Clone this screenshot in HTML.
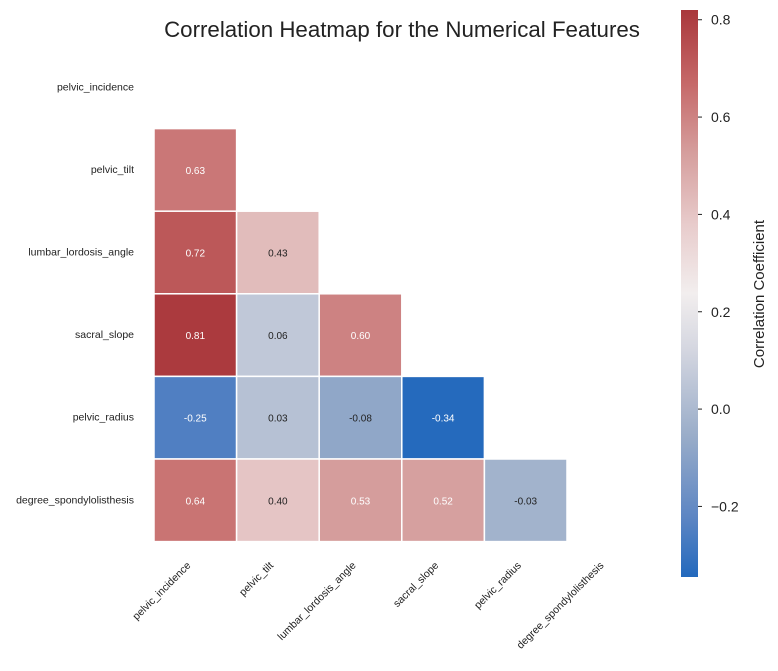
<!DOCTYPE html>
<html><head><meta charset="utf-8">
<style>
body{margin:0;background:#fff;font-family:"Liberation Sans",sans-serif;}
svg text{font-family:"Liberation Sans",sans-serif;}
</style></head>
<body>
<svg id="chart" width="778" height="666" xmlns="http://www.w3.org/2000/svg">
<defs>
<linearGradient id="cbgrad" x1="0" y1="1" x2="0" y2="0">
<stop offset="0" stop-color="#2369bd"/>
<stop offset="0.1" stop-color="#5a84c3"/>
<stop offset="0.25" stop-color="#9aadc9"/>
<stop offset="0.4" stop-color="#d4d6e0"/>
<stop offset="0.5" stop-color="#f2eeee"/>
<stop offset="0.62" stop-color="#e8cccc"/>
<stop offset="0.75" stop-color="#d59d9c"/>
<stop offset="0.87" stop-color="#c66969"/>
<stop offset="1" stop-color="#a9373b"/>
</linearGradient>
</defs>
<text x="402" y="37" font-size="22.3" text-anchor="middle" fill="#222">Correlation Heatmap for the Numerical Features</text>
<g id="cells"></g>
<g id="ylabels"></g>
<g id="xlabels"></g>
<rect x="681" y="10" width="17" height="567" fill="url(#cbgrad)"/>
<g id="cbticks"></g>
<text transform="translate(764,294) rotate(-90)" font-size="15" text-anchor="middle" fill="#222">Correlation Coefficient</text>
</svg>
<script>
const features = ["pelvic_incidence","pelvic_tilt","lumbar_lordosis_angle","sacral_slope","pelvic_radius","degree_spondylolisthesis"];
const corrRow1 = [0.63];
const corrRow2 = [0.72,0.43];
const corrRow3 = [0.81,0.06,0.60];
const corrRow4 = [-0.25,0.03,-0.08,-0.34];
const corrRow5 = [0.64,0.40,0.53,0.52,-0.03];
const cbTicks = [-0.2,0.0,0.2,0.4,0.6,0.8];
const rows = [[],corrRow1,corrRow2,corrRow3,corrRow4,corrRow5];
const vmin=-0.345, vmax=0.82;
const x0=154, y0=46, cs=82.6;
const stops=[[0,[35,105,189]],[0.1,[90,132,195]],[0.25,[154,173,201]],[0.4,[212,214,224]],[0.5,[242,238,238]],[0.62,[232,204,204]],[0.75,[213,157,156]],[0.87,[198,105,105]],[1,[169,55,59]]];
function color(v){let t=Math.max(0,Math.min(1,(v-vmin)/(vmax-vmin)));for(let i=1;i<stops.length;i++){if(t<=stops[i][0]){const a=stops[i-1],b=stops[i];const f=(t-a[0])/(b[0]-a[0]);return a[1].map((x,k)=>Math.round(x+(b[1][k]-x)*f));}}return stops[stops.length-1][1];}
const NS="http://www.w3.org/2000/svg";
function mk(tag,attrs,parent){const e=document.createElementNS(NS,tag);for(const k in attrs)e.setAttribute(k,attrs[k]);parent.appendChild(e);return e;}
const cells=document.getElementById('cells');
rows.forEach((r,i)=>{r.forEach((v,j)=>{
 const c=color(v);
 const rect=mk('rect',{x:x0+j*cs,y:y0+i*cs,width:cs,height:cs,fill:`rgb(${c})`,stroke:'#fff','stroke-width':1.5},cells);
 
 
 const t=mk('text',{x:x0+j*cs+cs/2,y:y0+i*cs+cs/2+4,'font-size':10,'text-anchor':'middle',fill:(v>0.45||v<-0.2)?'#fff':'#222'},cells);
 t.textContent=v.toFixed(2);
 
 
});});
const yl=document.getElementById('ylabels'), xl=document.getElementById('xlabels');
features.forEach((f,i)=>{
 const t=mk('text',{x:134,y:y0+i*cs+cs/2+3,'font-size':10.5,'text-anchor':'end',fill:'#222'},yl);
 t.textContent=f;
 
 
 const cx=x0+i*cs+cs/2-4, cy=566;
 const u=mk('text',{transform:`translate(${cx},${cy}) rotate(-45)`,'font-size':10.5,'text-anchor':'end',fill:'#222'},xl);
 u.textContent=f;
 
 
});
const cb=document.getElementById('cbticks');
cbTicks.forEach(v=>{
 const y=10+(vmax-v)/(vmax-vmin)*567;
 const l=mk('line',{x1:698,x2:702,y1:y,y2:y,stroke:'#222','stroke-width':1},cb);
 
 
 const t=mk('text',{x:711,y:y+5,'font-size':14,fill:'#222'},cb);
 t.textContent=(v<0?'\u2212'+Math.abs(v).toFixed(1):v.toFixed(1));
 
 
});
</script>
</body></html>
